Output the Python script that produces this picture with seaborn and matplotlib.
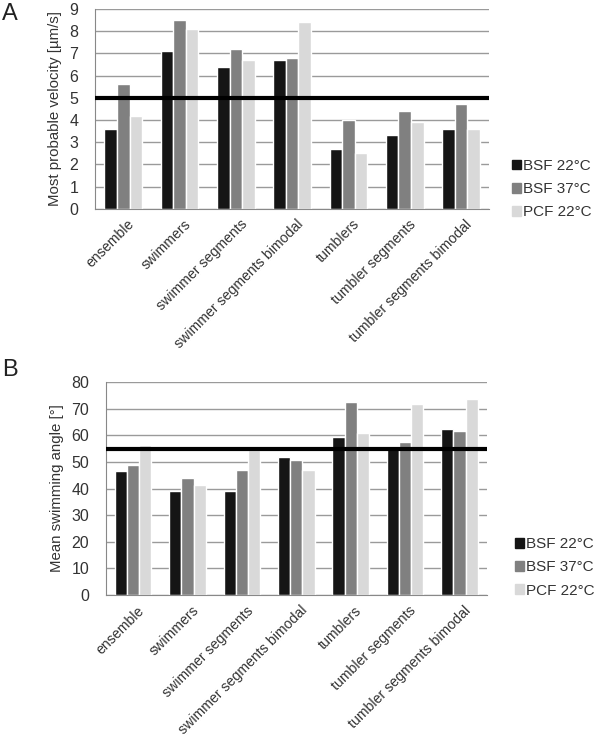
import numpy as np
import pandas as pd
import seaborn as sns
import matplotlib.transforms as mtransforms
from matplotlib import pyplot as plt

categories = ["ensemble", "swimmers", "swimmer segments", "swimmer segments bimodal",
              "tumblers", "tumbler segments", "tumbler segments bimodal"]
series = ["BSF 22°C", "BSF 37°C", "PCF 22°C"]

# panel A: most probable velocity
velocity_bsf22 = [3.6, 7.1, 6.4, 6.7, 2.7, 3.3, 3.6]
velocity_bsf37 = [5.6, 8.5, 7.2, 6.8, 4.0, 4.4, 4.7]
velocity_pcf22 = [4.2, 8.1, 6.7, 8.4, 2.5, 3.9, 3.6]
velocity_threshold = 5

# panel B: mean swimming angle
angle_bsf22 = [46.5, 38.9, 38.9, 51.7, 59.3, 55.3, 62.5]
angle_bsf37 = [48.8, 43.8, 46.9, 50.6, 72.3, 57.4, 61.4]
angle_pcf22 = [56.5, 41.3, 54.6, 47.0, 60.9, 71.8, 73.4]
angle_threshold = 55

colors = ["#151515", "#808080", "#d9d9d9"]


def long_table(a, b, c):
    rows = []
    for s, vals in zip(series, [a, b, c]):
        for cat, v in zip(categories, vals):
            rows.append({"category": cat, "series": s, "value": v})
    return pd.DataFrame(rows)


def draw_panel(fig, ax, df, ymax, step, threshold, ylabel):
    sns.barplot(data=df, x="category", y="value", hue="series",
                order=categories, hue_order=series, palette=colors,
                width=0.67, errorbar=None, saturation=1, ax=ax, zorder=2)
    ax.set_ylim(0, ymax)
    ax.set_xlim(-0.5, len(categories) - 0.5)
    ax.set_yticks(np.arange(0, ymax + step, step))
    ax.yaxis.grid(True, color="#9a9a9a", linewidth=1)
    ax.set_axisbelow(True)
    ax.axhline(threshold, color="black", linewidth=3, zorder=3)
    ax.set_xlabel("")
    ax.set_ylabel(ylabel, fontsize=10.8, color="#333333", labelpad=5)
    # ticks between categories, like the spreadsheet look
    ax.set_xticks(np.arange(-0.5, len(categories), 1), minor=True)
    ax.tick_params(axis="x", which="major", length=0, pad=6)
    ax.tick_params(axis="x", which="minor", length=4, color="#888888")
    ax.tick_params(axis="y", length=4, color="#888888", labelsize=11.5,
                   labelcolor="#333333", pad=8)
    ax.set_xticks(range(len(categories)))
    ax.set_xticklabels(categories, rotation=45, ha="right", rotation_mode="anchor",
                       fontsize=10.2, color="#333333")
    shift = mtransforms.ScaledTranslation(4 / 100, 0, fig.dpi_scale_trans)
    for lab in ax.get_xticklabels():
        lab.set_transform(lab.get_transform() + shift)
    for side in ["top", "right"]:
        ax.spines[side].set_visible(False)
    for side in ["left", "bottom"]:
        ax.spines[side].set_color("#888888")
    ax.get_legend().remove()


sns.set_style("white")
plt.rcParams["font.family"] = ["Liberation Sans", "DejaVu Sans"]

fig = plt.figure(figsize=(5.98, 7.43), dpi=100)
ax_a = fig.add_axes([0.159, 0.719, 0.659, 0.269])
ax_b = fig.add_axes([0.177, 0.199, 0.637, 0.287])

draw_panel(fig, ax_a, long_table(velocity_bsf22, velocity_bsf37, velocity_pcf22),
           9, 1, velocity_threshold, "Most probable velocity [µm/s]")
draw_panel(fig, ax_b, long_table(angle_bsf22, angle_bsf37, angle_pcf22),
           80, 10, angle_threshold, "Mean swimming angle [°]")

for anchor in [(0.856, 0.786), (0.861, 0.277)]:
    handles = [plt.Rectangle((0, 0), 1, 1, color=c) for c in colors]
    fig.legend(handles, series, loc="upper left", bbox_to_anchor=anchor,
               frameon=False, fontsize=11, handlelength=0.6, handleheight=0.6,
               handletextpad=0.1, labelspacing=0.6, borderpad=0, borderaxespad=0,
               labelcolor="#333333")

fig.text(0.004, 0.981, "A", fontsize=17, color="#222222", va="center")
fig.text(0.004, 0.502, "B", fontsize=17, color="#222222", va="center")

fig.savefig("out.png", dpi=100)
